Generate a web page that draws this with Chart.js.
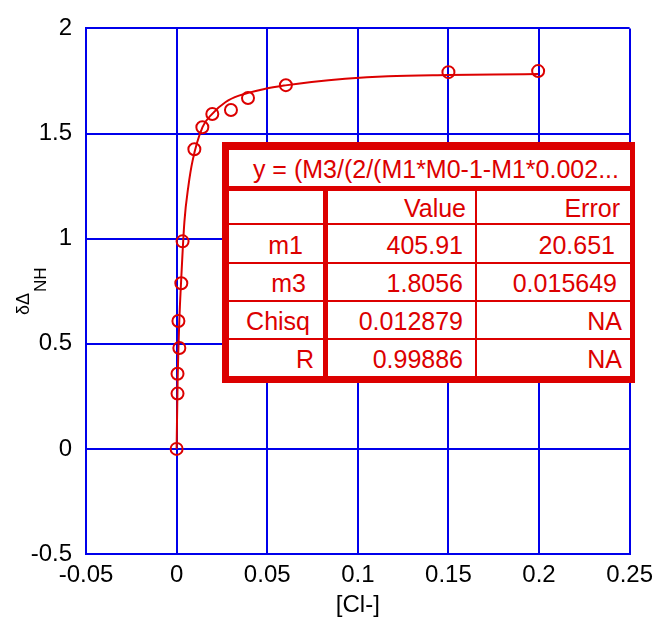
<!DOCTYPE html>
<html>
<head>
<meta charset="utf-8">
<script src="https://cdn.jsdelivr.net/npm/chart.js@4.4.1/dist/chart.umd.min.js"></script>
<style>
  html, body { margin: 0; padding: 0; background: #fff; }
  #wrap { position: relative; width: 660px; height: 620px; }
  #chart { position: absolute; left: 0; top: 0; }
  #fit-table {
    position: absolute; left: 222px; top: 142px; width: 413px; height: 241px;
    background: #dc0000;
    font-family: "Liberation Sans", Arial, sans-serif; font-size: 25px; color: #dc0000;
  }
  #fit-table div {
    position: absolute; background: #fff; box-sizing: border-box;
    text-align: right; white-space: nowrap; overflow: hidden;
    display: flex; align-items: center; justify-content: flex-end;
    padding-top: 3px;
  }
</style>
</head>
<body>
<div id="wrap">
  <canvas id="chart" width="660" height="620"></canvas>
  <div id="fit-table"></div>
</div>
<script>
// titration data: chemical shift change vs chloride concentration
const clConc  = [0, 0.0005, 0.0005, 0.0015, 0.001, 0.0026, 0.0033, 0.0098, 0.0142, 0.0197, 0.0300, 0.0394, 0.0603, 0.150, 0.1995];
const deltaNH = [0, 0.263, 0.357, 0.48, 0.608, 0.788, 0.987, 1.425, 1.53, 1.593, 1.612, 1.669, 1.730, 1.792, 1.797];

// fitted binding curve
const fitX = [0, 0.0006, 0.0015, 0.0025, 0.0043, 0.0065, 0.0088, 0.0143, 0.0198, 0.0271, 0.0344, 0.049, 0.060, 0.0745, 0.093, 0.1167, 0.1496, 0.175, 0.1995];
const fitY = [0, 0.34, 0.61, 0.80, 1.08, 1.25, 1.37, 1.53, 1.595, 1.65, 1.68, 1.713, 1.729, 1.745, 1.760, 1.772, 1.778, 1.781, 1.783];

// axis ticks
const xTicks = [-0.05, 0, 0.05, 0.1, 0.15, 0.2, 0.25];
const xTickLabels = ['-0.05', '0', '0.05', '0.1', '0.15', '0.2', '0.25'];
const yTicks = [-0.5, 0, 0.5, 1, 1.5, 2];
const yTickLabels = ['-0.5', '0', '0.5', '1', '1.5', '2'];

// fit results
const fitEquation = 'y = (M3/(2/(M1*M0-1-M1*0.002...';
const fitHeader = ['', 'Value', 'Error'];
const paramNames = ['m1', 'm3', 'Chisq', 'R'];
const paramValues = ['405.91', '1.8056', '0.012879', '0.99886'];
const paramErrors = ['20.651', '0.015649', 'NA', 'NA'];

const RED = '#dc0000';
const BLUE = 'rgb(0,0,235)';
const FONT = '"Liberation Sans", Arial, sans-serif';

// rotated y title with subscript
const yTitlePlugin = {
  id: 'yTitle',
  afterDraw(chart) {
    const ctx = chart.ctx;
    const mid = (chart.chartArea.top + chart.chartArea.bottom) / 2;
    ctx.save();
    ctx.fillStyle = '#000';
    ctx.textBaseline = 'alphabetic';
    ctx.font = '18px ' + FONT;
    const w1 = ctx.measureText('δΔ').width;
    ctx.font = '17px ' + FONT;
    const w2 = ctx.measureText('NH').width;
    const total = w1 + 1 + w2;
    ctx.translate(29, mid + total / 2);
    ctx.rotate(-Math.PI / 2);
    ctx.font = '18px ' + FONT;
    ctx.fillText('δΔ', 0, 0);
    ctx.font = '17px ' + FONT;
    ctx.fillText('NH', w1 + 1, 17);
    ctx.restore();
  }
};

new Chart(document.getElementById('chart'), {
  type: 'scatter',
  data: {
    datasets: [
      {
        label: 'fit',
        type: 'line',
        data: fitX.map((x, i) => ({ x, y: fitY[i] })),
        borderColor: RED,
        borderWidth: 2,
        pointRadius: 0,
        cubicInterpolationMode: 'monotone',
        fill: false
      },
      {
        label: 'data',
        data: clConc.map((x, i) => ({ x, y: deltaNH[i] })),
        borderColor: RED,
        backgroundColor: 'rgba(0,0,0,0)',
        borderWidth: 2,
        pointRadius: 6,
        pointStyle: 'circle'
      }
    ]
  },
  options: {
    responsive: false,
    animation: false,
    layout: { padding: { left: 0, right: 27, top: 26, bottom: 0 } },
    plugins: { legend: { display: false }, tooltip: { enabled: false } },
    scales: {
      x: {
        type: 'linear', min: -0.05, max: 0.25,
        afterBuildTicks: s => { s.ticks = xTicks.map(v => ({ value: v })); },
        afterFit: s => { s.height = 66; },
        grid: { color: BLUE, lineWidth: 2, drawTicks: false },
        border: { color: BLUE, width: 2 },
        ticks: {
          color: '#000', font: { family: FONT, size: 24 }, padding: 7, maxRotation: 0,
          callback: (v, i) => xTickLabels[i]
        },
        title: { display: true, text: '[Cl-]', color: '#000', font: { family: FONT, size: 24 }, padding: { top: 0, bottom: 0 } }
      },
      y: {
        type: 'linear', min: -0.5, max: 2,
        afterBuildTicks: s => { s.ticks = yTicks.map(v => ({ value: v })); },
        afterFit: s => { s.width = 86; },
        grid: { color: BLUE, lineWidth: 2, drawTicks: false },
        border: { color: BLUE, width: 2 },
        ticks: {
          color: '#000', font: { family: FONT, size: 24 }, padding: 14,
          callback: (v, i) => yTickLabels[i]
        }
      }
    }
  },
  plugins: [yTitlePlugin]
});

// fit results table
const table = document.getElementById('fit-table');
const cols = [[7, 101], [106, 253], [255, 408]];
const rows = [[49, 81], [83, 120], [122, 158], [160, 196], [198, 234]];
// right padding per row, per column
const pads = [
  [10, 9, 10],
  [20, 12, 15],
  [17, 12, 13],
  [13, 12, 8],
  [9, 12, 8]
];

function cell(text, x0, x1, y0, y1, pad) {
  const d = document.createElement('div');
  d.style.left = x0 + 'px';
  d.style.width = (x1 - x0) + 'px';
  d.style.top = y0 + 'px';
  d.style.height = (y1 - y0) + 'px';
  d.style.paddingRight = pad + 'px';
  d.textContent = text;
  table.appendChild(d);
}

cell(fitEquation, 7, 408, 8, 44, 11);
const body = [fitHeader].concat(paramNames.map((n, i) => [n, paramValues[i], paramErrors[i]]));
body.forEach((r, ri) => {
  r.forEach((t, ci) => cell(t, cols[ci][0], cols[ci][1], rows[ri][0], rows[ri][1], pads[ri][ci]));
});
</script>
</body>
</html>
